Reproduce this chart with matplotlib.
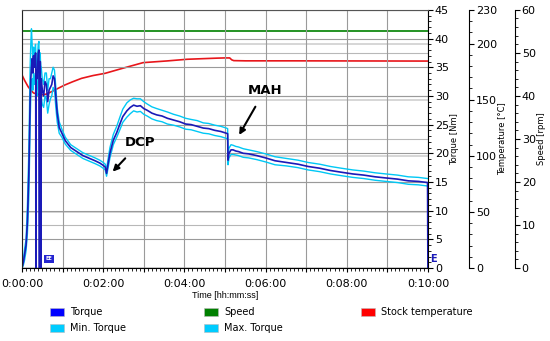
import matplotlib
matplotlib.use("Agg")
import matplotlib.pyplot as plt
from matplotlib.patches import Patch
from matplotlib.ticker import MultipleLocator, FixedLocator, FuncFormatter

# data (time in seconds)
time_s = [0, 2, 4, 6, 8, 10, 11, 12, 13, 14,
          15, 16, 17, 18, 19, 20, 20.3, 20.5, 20.8, 22,
          23, 24, 25, 25.3, 26.5, 27, 27.3, 28, 28.4, 30,
          32, 34, 36, 38, 40, 42, 44, 46, 48, 50,
          52, 55, 59, 64, 72, 81, 90, 100, 108, 115,
          120, 123, 125, 127, 130, 135, 140, 145, 149, 155,
          160, 165, 170, 175, 180, 185, 192, 199, 207, 215,
          224, 233, 242, 250, 259, 268, 276, 285, 294, 302,
          304, 304.5, 306, 309, 312, 316, 320, 327, 335, 347,
          360, 374, 391, 408, 423, 440, 456, 472, 489, 505,
          522, 538, 555, 571, 586, 599.5, 600]

torque = [0, 1, 2.5, 4, 8, 16, 22, 29, 33, 35,
          36.5, 34, 37, 35, 36.5, 37.5, 37, 0, 34, 33,
          35, 37.5, 38, 0, 0, 36, 0, 0, 33, 31,
          30, 32.5, 32, 29, 31, 31.5, 32, 33.5, 33, 30,
          27, 24.5, 23.5, 22.2, 21, 20.3, 19.6, 19.1, 18.7, 18.3,
          17.9, 17.6, 16.5, 18, 20, 22.3, 23.6, 25.2, 26.4, 27.4,
          28.0, 28.4, 28.2, 28.3, 27.8, 27.5, 27.0, 26.7, 26.5, 26.1,
          25.8, 25.5, 25.1, 25.0, 24.7, 24.4, 24.3, 24.0, 23.8, 23.5,
          23.4, 18.8, 20.0, 20.6, 20.6, 20.4, 20.3, 20.0, 19.9, 19.6,
          19.2, 18.7, 18.4, 18.1, 17.7, 17.4, 17.0, 16.7, 16.4, 16.2,
          15.9, 15.7, 15.5, 15.2, 15.1, 14.9, 0]

max_torque = [0, 1.5, 3.5, 5, 11, 20, 27, 35, 39, 41.7,
              39, 36, 38.5, 37, 38, 39, 38, 36, 36, 35,
              37, 39, 39.5, 37, 36, 37.5, 36, 35, 35, 33,
              32, 34, 34, 31, 33, 33, 34, 35, 34.5, 31.5,
              28, 25.5, 24.2, 22.8, 21.5, 20.8, 20.1, 19.6, 19.2, 18.8,
              18.4, 18.1, 17.2, 18.8, 21, 23.3, 24.7, 26.4, 27.7, 28.8,
              29.3, 29.6, 29.5, 29.5, 29.0, 28.6, 28.1, 27.8, 27.5, 27.2,
              26.8, 26.5, 26.1, 25.9, 25.7, 25.3, 25.2, 24.9, 24.7, 24.4,
              24.3, 19.6, 20.9, 21.5, 21.4, 21.2, 21.1, 20.8, 20.6, 20.3,
              19.9, 19.4, 19.1, 18.8, 18.4, 18.1, 17.7, 17.4, 17.1, 16.9,
              16.6, 16.4, 16.2, 15.9, 15.8, 15.6, 15.6]

min_torque = [0, 0.5, 1.5, 3, 6, 12, 18, 25, 30, 32,
              33, 31, 34, 32, 33, 34, 34, 33, 31, 30,
              32, 34, 35, 34, 33, 35, 33, 31, 30, 28.5,
              28, 30, 29.5, 27, 28.5, 29.5, 30, 31.5, 31, 28,
              25.5, 23.5, 22.8, 21.6, 20.5, 19.8, 19.1, 18.6, 18.2, 17.8,
              17.4, 17.1, 16.0, 17.3, 19.2, 21.5, 22.8, 24.2, 25.4, 26.3,
              26.9, 27.4, 27.2, 27.3, 26.8, 26.5, 26.0, 25.7, 25.5, 25.1,
              24.9, 24.6, 24.2, 24.1, 23.8, 23.5, 23.4, 23.1, 22.9, 22.6,
              22.5, 18.0, 19.2, 19.8, 19.8, 19.7, 19.6, 19.3, 19.2, 18.9,
              18.5, 18.0, 17.8, 17.5, 17.1, 16.8, 16.4, 16.1, 15.8, 15.6,
              15.3, 15.1, 14.9, 14.6, 14.5, 14.3, 14.3]

temp_time = [0, 4, 9, 13, 17, 22, 29, 36, 44, 53, 63, 75, 88, 105, 123,
             149, 179, 214, 244, 270, 288, 300, 307, 310, 313, 330, 400, 500, 600]
temp_c = [172, 167, 161.6, 158.5, 156, 155, 154.2, 155, 157.2, 160, 163, 166, 169, 171.5, 173.5,
          178, 183, 184.5, 186, 186.6, 187, 187.2, 187.2, 185.5, 184.8, 184.6, 184.6, 184.5, 184.4]

speed_time = [0, 600]
speed_rpm = [55, 55]

temp_ticks = [0, 50, 100, 150, 200, 230]

legend_labels = ["Torque", "Min. Torque", "Speed", "Max. Torque", "Stock temperature"]
legend_colors = ["#0000ff", "#00ccff", "#008000", "#00ccff", "#ff0000"]

C_TORQUE = "#1a1ab8"
C_BAND = "#00c8f5"


def hms(v, pos):
    v = int(round(v))
    if v % 120:
        return ""
    return "%d:%02d:%02d" % (v // 3600, (v % 3600) // 60, v % 60)


fig = plt.figure(figsize=(5.5, 3.41), dpi=100)
ax = fig.add_axes([0.04, 0.214, 0.738, 0.757])
ax_t = ax.twinx()
ax_s = ax.twinx()

# main axis on top so torque traces overlay the other grids
ax.set_zorder(3)
ax.patch.set_visible(False)
ax_t.set_zorder(1)
ax_s.set_zorder(2)

ax_t.spines["right"].set_position(("axes", 1.101))
ax_s.spines["right"].set_position(("axes", 1.214))
for a in (ax_t, ax_s):
    for sp in ("left", "top", "bottom"):
        a.spines[sp].set_visible(False)

# traces
ax_s.plot(speed_time, speed_rpm, color="#138a13", lw=1.3)
ax_t.plot(temp_time, temp_c, color="#e8161b", lw=1.2)
ax.plot(time_s, max_torque, color=C_BAND, lw=1.0)
ax.plot(time_s, min_torque, color=C_BAND, lw=1.0)
ax.plot(time_s, torque, color=C_TORQUE, lw=1.2)

# limits / ticks
ax.set_xlim(0, 600)
ax.set_ylim(0, 45)
ax_t.set_ylim(0, 230)
ax_s.set_ylim(0, 60)

ax.xaxis.set_major_locator(MultipleLocator(60))
ax.xaxis.set_minor_locator(MultipleLocator(6))
ax.xaxis.set_major_formatter(FuncFormatter(hms))
ax.yaxis.tick_right()
ax.yaxis.set_label_position("right")
ax.yaxis.set_major_locator(MultipleLocator(5))
ax.yaxis.set_minor_locator(MultipleLocator(1))
ax_t.yaxis.set_major_locator(FixedLocator(temp_ticks))
ax_t.yaxis.set_minor_locator(MultipleLocator(10))
ax_s.yaxis.set_major_locator(MultipleLocator(10))
ax_s.yaxis.set_minor_locator(MultipleLocator(2))

for a in (ax, ax_t, ax_s):
    a.tick_params(axis="y", which="major", labelsize=8, length=3.5, width=0.8, pad=1.5)
    a.tick_params(axis="y", which="minor", length=2, width=0.6)
ax.tick_params(axis="x", which="major", labelsize=8, length=3, width=0.8, pad=5)
ax.tick_params(axis="x", which="minor", length=2, width=0.6)

# grids
ax.grid(True, axis="x", color="#9a9a9a", lw=0.8)
ax.grid(True, axis="y", color="#9a9a9a", lw=0.8)
ax_t.grid(True, axis="y", color="#cfcfcf", lw=1.2)
ax_s.grid(True, axis="y", color="#b8b8b8", lw=0.8)

ax.spines["top"].set_color("#555555")
ax.spines["left"].set_color("#222222")

ax.set_xlabel("Time [hh:mm:ss]", fontsize=6.5, family="Liberation Sans", labelpad=1)
ax.set_ylabel("Torque [Nm]", fontsize=6, labelpad=1)
ax_t.set_ylabel("Temperature [°C]", fontsize=6, labelpad=1)
ax_s.set_ylabel("Speed [rpm]", fontsize=6, labelpad=1)

# annotations
ax.annotate("DCP", xy=(134, 16.8), xytext=(174, 21.8), ha="center", va="center",
            fontsize=9.5, fontweight="bold",
            arrowprops=dict(arrowstyle="-|>", color="black", lw=1.5,
                            mutation_scale=9, shrinkA=6, shrinkB=0))
ax.annotate("MAH", xy=(321, 23.2), xytext=(359, 31.0), ha="center", va="center",
            fontsize=9.5, fontweight="bold",
            arrowprops=dict(arrowstyle="-|>", color="black", lw=1.5,
                            mutation_scale=9, shrinkA=6, shrinkB=0))
ax.text(603, 1.5, "E", color="#1a1ab8", fontsize=7, fontweight="bold",
        ha="left", va="center", clip_on=False)
ax.text(35, 1.6, "EE", color="white", fontsize=3.5, fontweight="bold", ha="left", va="center",
        bbox=dict(boxstyle="square,pad=0.25", fc="#2424d0", ec="none"))

handles = [Patch(facecolor=c, edgecolor="#bbbbbb", lw=0.4) for c in legend_colors]
fig.legend(handles, legend_labels, loc="upper center", bbox_to_anchor=(0.475, 0.125),
           ncol=3, frameon=False, fontsize=7, handlelength=1.5, handleheight=0.9,
           handletextpad=0.6, columnspacing=8.0, labelspacing=0.6)

fig.savefig("out.png", dpi=100)
